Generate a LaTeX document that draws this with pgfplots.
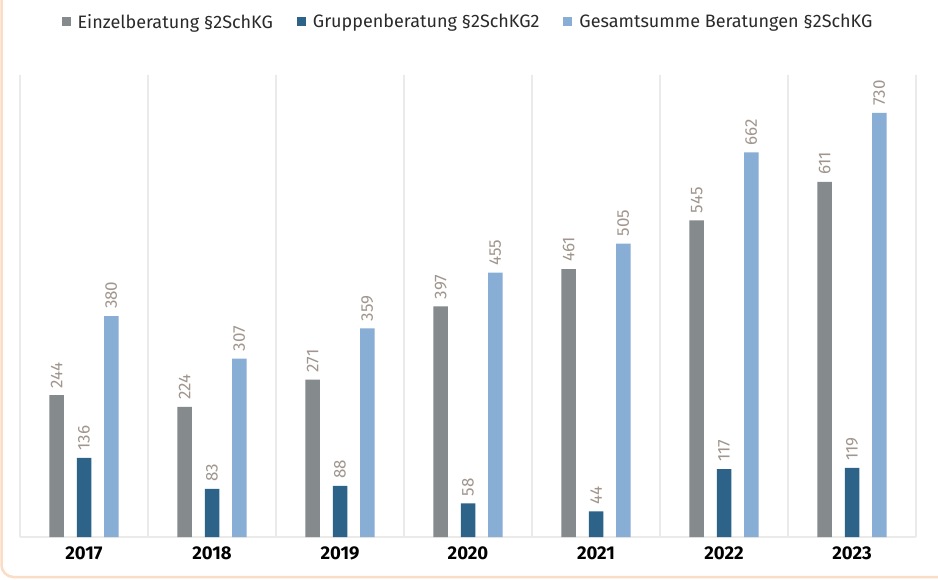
\documentclass[border=0pt]{standalone}
\usepackage{pgfplots}
\pgfplotsset{compat=1.18}
\usepackage{fontspec}
\setmainfont{Fira Sans}
\definecolor{cgray}{HTML}{858A8C}
\definecolor{cdark}{HTML}{2D6289}
\definecolor{clight}{HTML}{88AED6}
\definecolor{clabel}{HTML}{A0968E}
\definecolor{cgrid}{HTML}{EBEAE8}
\definecolor{cframe}{HTML}{FBDCC4}
\definecolor{ctext}{HTML}{2A2A2A}
\begin{document}
\begin{tikzpicture}
\path[use as bounding box] (0,0) rectangle (938pt,579pt);
\fill[white] (0,0) rectangle (938pt,579pt);
\draw[cframe, line width=2.5pt] (1.5pt,600pt) -- (1.5pt,14pt) arc[start angle=180,end angle=270,radius=12pt] -- (940pt,2pt);
\begin{axis}[
  at={(20pt,42pt)}, anchor=south west,
  scale only axis, width=896pt, height=462pt,
  xmin=-0.5, xmax=6.5, ymin=0, ymax=795,
  axis line style={draw=none},
  axis x line*=bottom,
  xtick={0,...,6},
  xticklabels={2017,2018,2019,2020,2021,2022,2023},
  xticklabel style={font=\fontsize{18.5}{18.5}\selectfont\bfseries, text=black, yshift=-6pt},
  minor xtick={-0.5,0.5,1.5,2.5,3.5,4.5,5.5,6.5},
  xminorgrids, minor x grid style={cgrid, line width=1.2pt},
  major tick length=0pt, minor tick length=0pt,
  ytick=\empty,
  /pgf/number format/assume math mode=true,
  ybar, bar width=14.5pt,
  nodes near coords,
  every node near coord/.append style={rotate=90, anchor=west, font=\fontsize{17}{17}\selectfont, text=clabel, inner sep=7pt},
  legend style={at={(0.5,1.0)}, yshift=53pt, anchor=center, draw=none, fill=none,
    legend columns=3, font=\fontsize{18}{18}\selectfont, text=ctext,
    /tikz/every odd column/.append style={column sep=5pt},
    /tikz/every even column/.append style={column sep=22pt}},
  legend image code/.code={\fill[#1] (0pt,-4pt) rectangle (9pt,5pt);},
  clip=false,
]
\draw[cgrid, line width=1.2pt] (axis cs:-0.5,0) -- (axis cs:6.5,0);
\addplot[fill=cgray, draw=none, bar shift=-27.3pt] coordinates {(0,244) (1,224) (2,271) (3,397) (4,461) (5,545) (6,611)};
\addplot[fill=cdark, draw=none, bar shift=0pt] coordinates {(0,136) (1,83) (2,88) (3,58) (4,44) (5,117) (6,119)};
\addplot[fill=clight, draw=none, bar shift=27.3pt] coordinates {(0,380) (1,307) (2,359) (3,455) (4,505) (5,662) (6,730)};
\legend{Einzelberatung §2SchKG, Gruppenberatung §2SchKG2, Gesamtsumme Beratungen §2SchKG}
\end{axis}
\end{tikzpicture}
\end{document}
